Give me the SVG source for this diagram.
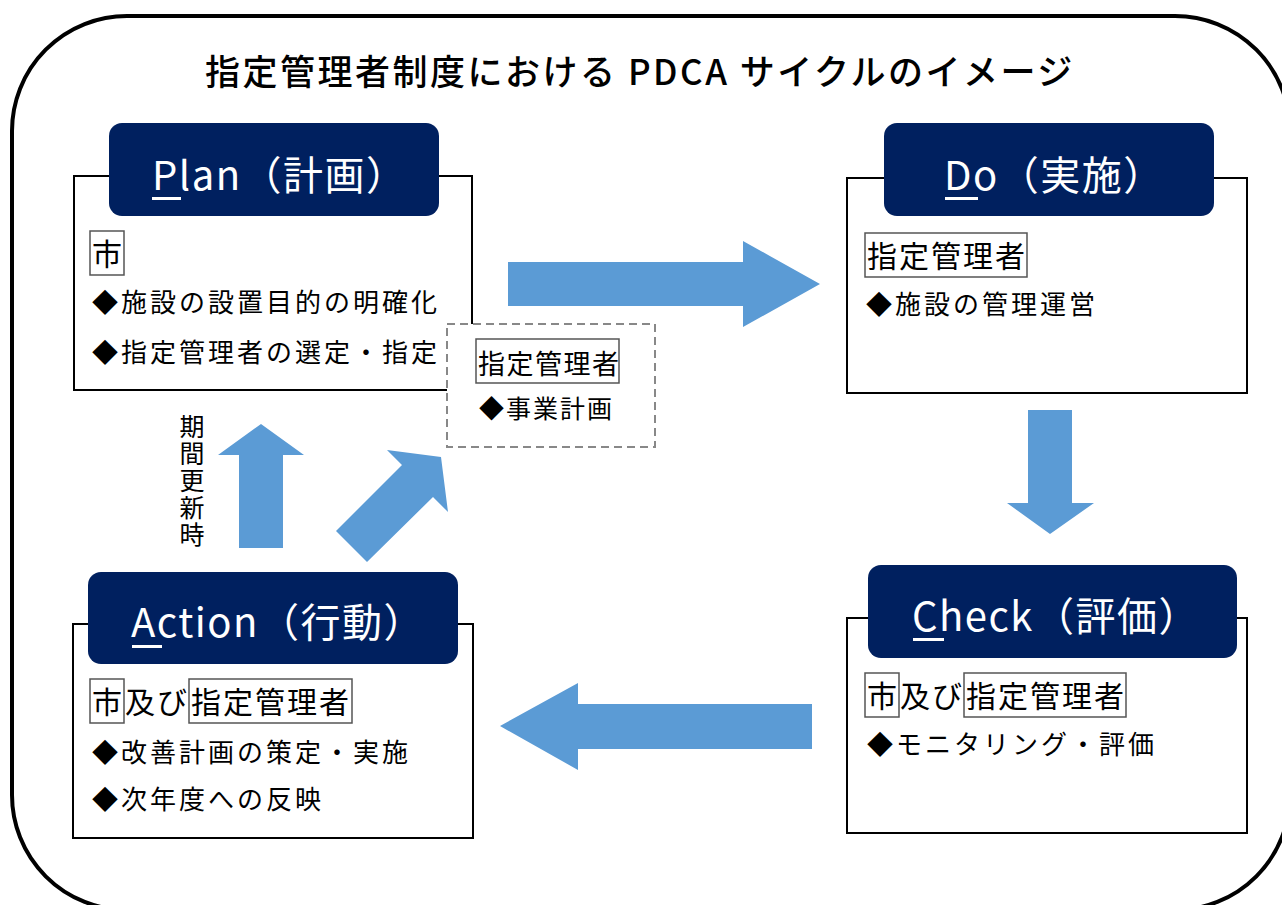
<svg xmlns="http://www.w3.org/2000/svg" width="1282" height="905" viewBox="0 0 1282 905">
<style>
.jp{font-family:"Noto Sans CJK JP","Noto Sans",sans-serif;}
.frame{fill:none;stroke:#000;stroke-width:4;}
.box{fill:#fff;stroke:#000;stroke-width:2;}
.hdr{fill:#00205F;}
.htxt{fill:#fff;font-size:40px;letter-spacing:1.5px;}
.uline{fill:#fff;}
.lbl{fill:#fff;stroke:#555;stroke-width:1.5;}
.ltxt{fill:#000;font-size:30px;letter-spacing:2px;}
.btxt{fill:#000;font-size:26px;letter-spacing:3px;}
.arrow{fill:#5B9BD5;}
.dash{fill:#fff;stroke:#888;stroke-width:2;stroke-dasharray:8 5;}
</style>
<rect width="1282" height="905" fill="#fff"/>
<rect class="frame" x="12" y="16" width="1278" height="894" rx="115" ry="115"/>
<text id="title" class="jp" x="205" y="85" font-size="35" font-weight="500" letter-spacing="2.5">指定管理者制度における PDCA サイクルのイメージ</text>

<g id="connectors">
  <polygon class="arrow" points="508,262 743,262 743,241 820,284 743,327 743,306 508,306"/>
  <polygon class="arrow" points="1028,410 1072,410 1072,503 1094,503 1050,534 1007,503 1028,503"/>
  <polygon class="arrow" points="812,704 812,749 578,749 578,770 500,726 578,683 578,704"/>
  <polygon class="arrow" points="239,548 239,455 218,455 261,424 304,455 283,455 283,548"/>
  <polygon class="arrow" points="336,531 402,465 387,450 441,457 448,512 433,497 367,562"/>
</g>

<g id="label-renewal">
  <text class="jp" x="192" y="414" font-size="25" letter-spacing="2" writing-mode="vertical-rl" style="writing-mode:vertical-rl">期間更新時</text>
</g>

<g id="node-plan">
  <rect class="box" x="74" y="176" width="398" height="214"/>
  <rect class="hdr" x="109" y="123" width="330" height="93" rx="13"/>
  <text class="jp htxt" x="152" y="190">Plan（計画）</text>
  <rect class="uline" x="152" y="197" width="29" height="3"/>
  <rect class="lbl" x="90" y="231" width="34" height="44"/>
  <text class="jp ltxt" x="92" y="265">市</text>
  <text class="jp btxt" x="92" y="312">◆施設の設置目的の明確化</text>
  <text class="jp btxt" x="92" y="362">◆指定管理者の選定・指定</text>
</g>

<g id="node-plan-sub">
  <rect class="dash" x="447" y="324" width="208" height="123"/>
  <rect class="lbl" x="476" y="339" width="143" height="44"/>
  <text class="jp" x="478" y="374" font-size="27" letter-spacing="1.5">指定管理者</text>
  <text class="jp" x="479" y="418" font-size="25" letter-spacing="2">◆事業計画</text>
</g>

<g id="node-do">
  <rect class="box" x="847" y="178" width="400" height="215"/>
  <rect class="hdr" x="884" y="123" width="330" height="93" rx="13"/>
  <text class="jp htxt" x="944" y="190">Do（実施）</text>
  <rect class="uline" x="945" y="197" width="33" height="3"/>
  <rect class="lbl" x="865" y="233" width="162" height="44"/>
  <text class="jp ltxt" x="867" y="267">指定管理者</text>
  <text class="jp btxt" x="866" y="314">◆施設の管理運営</text>
</g>

<g id="node-check">
  <rect class="box" x="847" y="618" width="400" height="215"/>
  <rect class="hdr" x="868" y="565" width="369" height="93" rx="13"/>
  <text class="jp htxt" x="912" y="631">Check（評価）</text>
  <rect class="uline" x="913" y="638" width="31" height="3"/>
  <rect class="lbl" x="865" y="673" width="34" height="44"/>
  <rect class="lbl" x="964" y="673" width="162" height="44"/>
  <text class="jp ltxt" x="867" y="707">市</text>
  <text class="jp ltxt" x="900" y="707">及び</text>
  <text class="jp ltxt" x="966" y="707">指定管理者</text>
  <text class="jp btxt" x="867" y="754">◆モニタリング・評価</text>
</g>

<g id="node-action">
  <rect class="box" x="73" y="624" width="400" height="214"/>
  <rect class="hdr" x="88" y="572" width="370" height="92" rx="13"/>
  <text class="jp htxt" x="131" y="637">Action（行動）</text>
  <rect class="uline" x="132" y="645" width="30" height="3"/>
  <rect class="lbl" x="90" y="679" width="34" height="44"/>
  <rect class="lbl" x="189" y="679" width="163" height="44"/>
  <text class="jp ltxt" x="92" y="713">市</text>
  <text class="jp ltxt" x="125" y="713">及び</text>
  <text class="jp ltxt" x="191" y="713">指定管理者</text>
  <text class="jp btxt" x="92" y="762">◆改善計画の策定・実施</text>
  <text class="jp btxt" x="92" y="809">◆次年度への反映</text>
</g>
</svg>
